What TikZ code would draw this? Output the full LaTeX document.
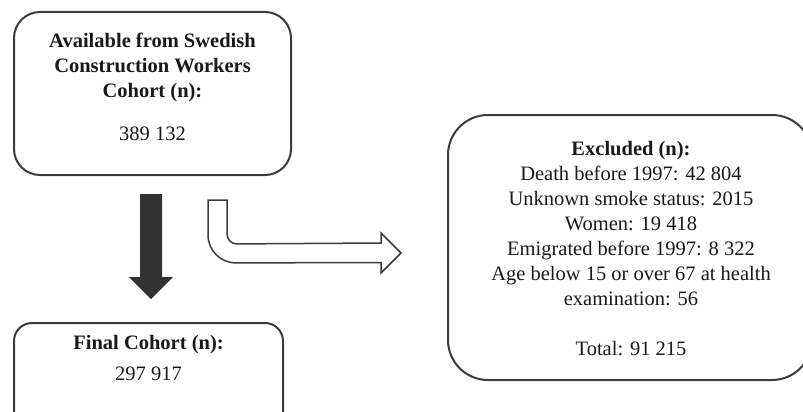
\documentclass[tikz,border=0pt]{standalone}
\usepackage{fontspec}
\setmainfont{Liberation Serif}
\usetikzlibrary{calc,positioning}
\definecolor{boxline}{HTML}{3C3C3C}
\definecolor{arrowdark}{HTML}{323232}
\tikzset{
  cohortbox/.style={
    draw=boxline,
    line width=2pt,
    rounded corners=#1,
    inner sep=0pt
  },
  boxtext/.style={
    font=\fontsize{20.5}{25}\selectfont,
    text=black!90,
    align=center,
    inner sep=0pt,
    anchor=north
  },
  darkarrow/.style={fill=arrowdark, draw=none},
  hollowarrow/.style={draw=boxline, line width=1.5pt, fill=white, line join=miter}
}
\begin{document}
\begin{tikzpicture}[x=1pt,y=-1pt]
  \useasboundingbox (0,0) rectangle (803,412);
  \clip (0,0) rectangle (803,412);
  % boxes
  \node[cohortbox=26pt, minimum width=277pt, minimum height=163pt] (avail) at (152.5,93.5) {};
  \node[cohortbox=18pt, minimum width=269pt, minimum height=117pt] (final) at (148.5,381.5) {};
  \node[cohortbox=40pt, minimum width=364pt, minimum height=265pt] (excl) at (630,247.5) {};
  \node[boxtext] (availtxt) at ($(avail.north)+(0,22)$)
    {\textbf{Available from Swedish}\\ \textbf{Construction Workers}\\ \textbf{Cohort (n):}\\[18pt] 389 132};
  \node[boxtext] (finaltxt) at ($(final.north)+(0,13.5)$)
    {\textbf{Final Cohort (n):}\\[6pt] 297 917};
  \node[boxtext] (excltxt) at ($(excl.north)+(1,27.5)$)
    {\textbf{Excluded (n):}\\ Death before 1997: 42 804\\ Unknown smoke status: 2015\\ Women: 19 418\\
     Emigrated before 1997: 8 322\\ Age below 15 or over 67 at health\\ examination: 56\\[25pt] Total: 91 215};
  % downward arrow
  \coordinate (dtop) at ($(avail.south)+(-1.5,18)$);
  \coordinate (dtip) at ($(final.north)+(2.5,-23)$);
  \fill[darkarrow] ($(dtop)+(-11,0)$) -- ($(dtop)+(11,0)$) -- ($(dtip)+(11,-22)$) -- ($(dtip)+(22,-22)$)
    -- (dtip) -- ($(dtip)+(-22,-22)$) -- ($(dtip)+(-11,-22)$) -- cycle;
  % bent arrow to excluded
  \coordinate (btop) at ($(avail.south east)+(-84,24)$);
  \coordinate (btip) at ($(excl.west)+(-46,5.5)$);
  \draw[hollowarrow] (btop) [rounded corners=28pt] -- ($(btop)+(0,63)$) [sharp corners]
    -- ($(btip)+(-20,9.5)$) -- ($(btip)+(-20,20)$) -- (btip) -- ($(btip)+(-20,-20)$)
    -- ($(btip)+(-20,-10)$) [rounded corners=10pt] -- ($(btop)+(19,44)$) [sharp corners]
    -- ($(btop)+(19,0)$) -- cycle;
\end{tikzpicture}
\end{document}
